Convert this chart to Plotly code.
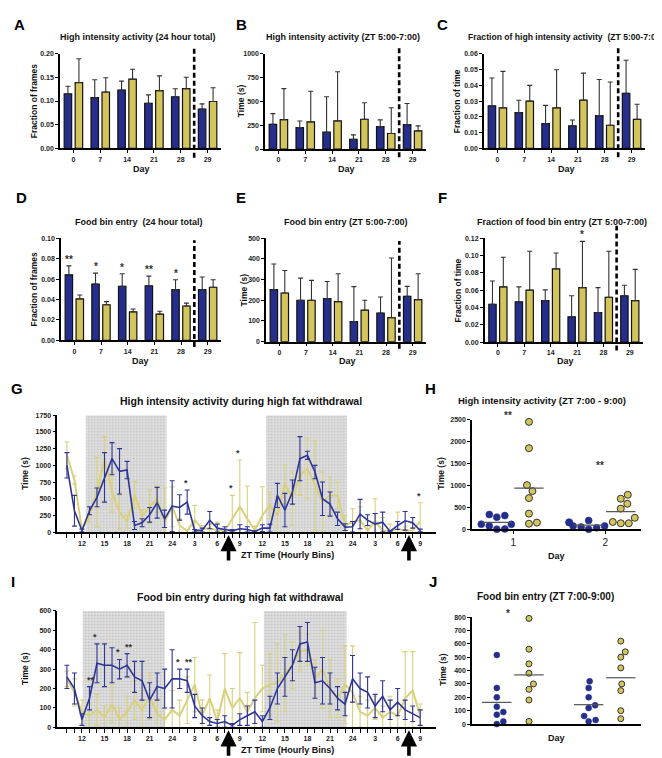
import plotly.graph_objects as go

W, H = 662, 758
FONT = "Liberation Sans, Arial, sans-serif"
BLUE = "#252e8c"
YEL = "#d4c45c"
BLUE_L = "#2d3596"
YEL_L = "#d8d07c"

# ---------------- data ----------------
days = ["0", "7", "14", "21", "28", "29"]

A_blue = [0.115, 0.107, 0.123, 0.095, 0.109, 0.083]
A_blue_err = [0.016, 0.038, 0.019, 0.018, 0.017, 0.011]
A_yel = [0.139, 0.119, 0.146, 0.122, 0.126, 0.099]
A_yel_err = [0.050, 0.030, 0.021, 0.031, 0.024, 0.029]

B_blue = [260, 226, 177, 101, 236, 257]
B_blue_err = [112, 69, 372, 48, 70, 222]
B_yel = [309, 285, 295, 313, 163, 191]
B_yel_err = [326, 323, 517, 173, 271, 52]

C_blue = [0.0271, 0.0227, 0.0157, 0.0143, 0.0208, 0.035]
C_blue_err = [0.0176, 0.0079, 0.0116, 0.0037, 0.023, 0.021]
C_yel = [0.0258, 0.030, 0.0258, 0.0306, 0.0147, 0.0185]
C_yel_err = [0.0231, 0.010, 0.0241, 0.0172, 0.0275, 0.0095]

D_blue = [0.0642, 0.0552, 0.053, 0.0535, 0.0497, 0.0497]
D_blue_err = [0.0087, 0.0106, 0.0122, 0.0094, 0.0097, 0.0123]
D_yel = [0.0406, 0.0349, 0.028, 0.0257, 0.0337, 0.052]
D_yel_err = [0.0039, 0.0031, 0.0028, 0.0029, 0.0028, 0.0074]
D_sig = ["**", "*", "*", "**", "*", ""]

E_blue = [251, 200, 208, 97, 138, 219]
E_blue_err = [124, 107, 83, 169, 78, 48]
E_yel = [235, 200, 193, 152, 116, 203]
E_yel_err = [109, 96, 135, 48, 288, 125]

F_blue = [0.0438, 0.0465, 0.048, 0.0293, 0.0343, 0.0536]
F_blue_err = [0.0269, 0.0173, 0.0124, 0.0243, 0.0287, 0.0121]
F_yel = [0.0638, 0.060, 0.0847, 0.063, 0.0517, 0.048]
F_yel_err = [0.0342, 0.045, 0.0183, 0.0533, 0.0533, 0.036]
F_sig_yel = ["", "", "", "*", "", ""]

# hourly bins: ZT 10 (day 1) ... ZT 9 (day 3)
hours = list(range(48))
zt_tick_hours = list(range(2, 48, 3))
zt_labels = ["12", "15", "18", "21", "24", "3", "6", "9",
             "12", "15", "18", "21", "24", "3", "6", "9"]
G_dark = [(2.5, 13.25), (26.5, 37.25)]
I_dark = [(2.1, 13.0), (26.2, 37.2)]
arrow_hours = [21.5, 45.5]

G_blue = [1000, 320, 25, 320, 520, 820, 1100, 910, 930, 100, 140, 260, 440, 200, 390, 370,
          450, 20, 30, 180, 60, 40, 20, 50, 40, 10, 60, 60, 550, 330, 600, 1100,
          1150, 900, 500, 420, 200, 75, 80, 270, 180, 120, 150, 10, 100, 170, 140, 25]
G_blue_err = [190, 230, 20, 60, 140, 370, 240, 340, 130, 60, 60, 110, 230, 130, 380, 190,
              180, 20, 30, 130, 60, 40, 20, 60, 40, 10, 50, 60, 180, 250, 180, 330,
              60, 100, 250, 180, 100, 50, 80, 220, 80, 160, 150, 10, 60, 140, 80, 20]
G_yel = [1150, 780, 30, 250, 600, 1100, 600, 300, 160, 560, 240, 380, 500, 160, 380, 100,
         20, 180, 50, 60, 30, 20, 200, 380, 200, 30, 250, 400, 250, 720, 500, 850,
         950, 700, 450, 550, 550, 100, 150, 180, 20, 170, 20, 20, 50, 20, 30, 160]
G_yel_err = [200, 60, 60, 100, 520, 330, 300, 250, 100, 200, 100, 250, 200, 500, 300, 100,
             20, 220, 50, 60, 120, 20, 350, 700, 490, 60, 430, 200, 280, 290, 400, 300,
             450, 670, 450, 280, 200, 150, 200, 200, 150, 330, 200, 100, 250, 60, 100, 280]
G_sig = [(16, "*"), (22, "*"), (23, "*"), (47, "*")]

I_blue = [260, 200, 40, 150, 330, 320, 320, 300, 320, 260, 240, 140, 210, 200, 250, 250,
          240, 110, 60, 30, 20, 30, 10, 40, 60, 80, 30, 100, 200, 260, 320, 430,
          440, 230, 240, 200, 150, 120, 250, 200, 180, 110, 160, 90, 130, 90, 70, 50]
I_blue_err = [60, 80, 30, 60, 100, 110, 90, 50, 60, 80, 100, 90, 70, 100, 150, 50,
              60, 60, 40, 20, 20, 30, 10, 30, 50, 60, 30, 60, 80, 100, 80, 90,
              100, 80, 120, 80, 60, 60, 120, 80, 80, 60, 80, 50, 70, 50, 40, 40]
I_yel = [250, 180, 80, 60, 90, 50, 120, 40, 80, 140, 90, 160, 70, 40, 90, 60,
         140, 220, 60, 150, 30, 200, 100, 150, 80, 150, 200, 220, 230, 280, 320, 390,
         400, 250, 300, 200, 150, 220, 180, 80, 60, 100, 50, 80, 60, 150, 190, 60]
I_yel_err = [40, 70, 60, 60, 80, 60, 100, 60, 80, 100, 100, 120, 80, 60, 100, 80,
             120, 140, 80, 120, 60, 180, 100, 235, 100, 390, 120, 160, 200, 200, 120, 100,
             80, 100, 200, 150, 100, 200, 240, 80, 80, 60, 60, 80, 60, 240, 200, 60]
I_sig = [(3, "**"), (4, "*"), (7, "*"), (8, "**"), (15, "*"), (16, "**")]

H_day1_blue = [310, 275, 335, 75, 110, 115, 0, 5]
H_day1_yel = [2450, 1850, 1005, 870, 710, 355, 125, 150]
H_day2_blue = [50, 160, 150, 200, 0, 75, 70, 30]
H_day2_yel = [580, 695, 785, 470, 260, 165, 135, 135]
H_sig = ["**", "**"]
H_sig_y = [2600, 1450]

J_day1_blue = [516, 270, 200, 130, 90, 70, 20, 0]
J_day1_yel = [790, 560, 450, 380, 300, 260, 180, 20]
J_day2_blue = [320, 270, 200, 140, 120, 60, 30, 20]
J_day2_yel = [620, 540, 500, 420, 300, 250, 100, 40]
J_sig = ["*", ""]
J_sig_y = [830, 0]

# ---------------- layout helpers ----------------
def fx(p):
    return p / W

def fy(p):
    return 1 - p / H

# (letter, x0, x1, ytop, ybottom) in pixels
panels = [
    ("A", 52, 213, 42, 137.7),
    ("B", 257, 418, 42.3, 138.3),
    ("C", 476, 637, 42.3, 137.7),
    ("D", 53, 213, 228.3, 331.5),
    ("E", 258, 418, 228.3, 332.7),
    ("F", 476.7, 635, 228.3, 333.3),
    ("G", 49.3, 428, 407, 525),
    ("H", 464, 633, 411.5, 522),
    ("I", 49.3, 428, 604.5, 722),
    ("J", 464, 633, 610.7, 718.7),
]

fig = go.Figure()
layout = dict(width=W, height=H, margin=dict(l=0, r=0, t=0, b=0),
              paper_bgcolor="white", plot_bgcolor="white", showlegend=False,
              barmode="group", bargap=0.18, bargroupgap=0.32)

tickfont = dict(family=FONT, size=7, color="#222", weight="bold")
ax_common = dict(showline=True, linecolor="black", linewidth=1.5, ticks="outside",
                 ticklen=3, tickwidth=1.2, tickcolor="black", showgrid=False,
                 zeroline=False, tickfont=tickfont, fixedrange=True)

def ids(k):
    return "" if k == 1 else str(k)

for k, (L, x0, x1, yt, yb) in enumerate(panels, start=1):
    s = ids(k)
    layout["xaxis" + s] = dict(ax_common, domain=[fx(x0), fx(x1)], anchor="y" + s)
    layout["yaxis" + s] = dict(ax_common, domain=[fy(yb), fy(yt)], anchor="x" + s)

annotations = []
shapes = []

def txt(x, y, s, size, angle=0, weight="bold", color="#111", xanchor="center", yanchor="middle"):
    annotations.append(dict(x=fx(x), y=fy(y), xref="paper", yref="paper", text=s,
                            showarrow=False, textangle=angle, xanchor=xanchor, yanchor=yanchor,
                            font=dict(family=FONT, size=size, color=color, weight=weight)))

# ---------------- bar panels ----------------
bar_specs = [
    (1, A_blue, A_blue_err, A_yel, A_yel_err, [0, 0.2], [0, 0.05, 0.10, 0.15, 0.20], ".2f", (-0.097, 1.052)),
    (2, B_blue, B_blue_err, B_yel, B_yel_err, [0, 1000], [0, 250, 500, 750, 1000], "d", (-0.087, 1.06)),
    (3, C_blue, C_blue_err, C_yel, C_yel_err, [0, 0.06], [0, 0.01, 0.02, 0.03, 0.04, 0.05, 0.06], ".2f", (-0.094, 1.07)),
    (4, D_blue, D_blue_err, D_yel, D_yel_err, [0, 0.1], [0, 0.02, 0.04, 0.06, 0.08, 0.10], ".2f", (-0.063, 0.98)),
    (5, E_blue, E_blue_err, E_yel, E_yel_err, [0, 500], [0, 100, 200, 300, 400, 500], "d", (-0.07, 0.974)),
    (6, F_blue, F_blue_err, F_yel, F_yel_err, [0, 0.12], [0, 0.02, 0.04, 0.06, 0.08, 0.10, 0.12], ".2f", (-0.08, 1.12)),
]
xs = list(range(len(days)))
for k, b, be, yv, ye, yr, tv, fmt, dash_ext in bar_specs:
    s = ids(k)
    for vals, errs, col in ((b, be, BLUE), (yv, ye, YEL)):
        fig.add_trace(go.Bar(x=xs, y=vals, xaxis="x" + s, yaxis="y" + s,
                             marker=dict(color=col, line=dict(color="#111", width=1.2)),
                             error_y=dict(type="data", array=errs, symmetric=False,
                                          arrayminus=[0] * len(errs), color="#333",
                                          thickness=1.1, width=2.5)))
    layout["xaxis" + s].update(range=[-0.5, 5.5], tickvals=xs, ticktext=days)
    layout["yaxis" + s].update(range=yr, tickvals=tv, tickformat=fmt)
    shapes.append(dict(type="line", xref="x" + s, yref="y" + s + " domain",
                       x0=4.5, x1=4.5, y0=dash_ext[0], y1=dash_ext[1],
                       line=dict(color="black", width=2.6, dash="5px,3px")))

# significance stars on bar panels
off = 0.205
starfont = dict(family=FONT, size=10, color="#333", weight="bold")
starfont_s = dict(family=FONT, size=9, color="#333", weight="bold")
for i, sg in enumerate(D_sig):
    if sg:
        annotations.append(dict(x=i - off, y=D_blue[i] + D_blue_err[i], xref="x4", yref="y4",
                                text=sg, showarrow=False, yanchor="bottom", yshift=-1,
                                font=starfont))
for i, sg in enumerate(F_sig_yel):
    if sg:
        annotations.append(dict(x=i + off, y=F_yel[i] + F_yel_err[i], xref="x6", yref="y6",
                                text=sg, showarrow=False, yanchor="bottom", yshift=-1,
                                font=starfont))

# ---------------- time-course panels ----------------
for k, bl, ble, ye, yee, yr, tv, dark, sig in (
        (7, G_blue, G_blue_err, G_yel, G_yel_err, [0, 1750], list(range(0, 1751, 250)), G_dark, G_sig),
        (9, I_blue, I_blue_err, I_yel, I_yel_err, [0, 600], list(range(0, 601, 100)), I_dark, I_sig)):
    s = ids(k)
    # stippled dark-phase background
    fig.add_trace(go.Bar(x=[(d0 + d1) / 2 for d0, d1 in dark], y=[yr[1]] * len(dark),
                         width=[d1 - d0 for d0, d1 in dark], xaxis="x" + s, yaxis="y" + s,
                         marker=dict(color="#e2e2e2", line=dict(width=0),
                                     pattern=dict(shape=".", fgcolor="#9a9a9a", size=3,
                                                  solidity=0.3)),
                         hoverinfo="skip"))
    for vals, errs, col, lw in ((ye, yee, YEL_L, 2.0), (bl, ble, BLUE_L, 1.6)):
        fig.add_trace(go.Scatter(x=hours, y=vals, mode="lines", xaxis="x" + s, yaxis="y" + s,
                                 line=dict(color=col, width=lw),
                                 error_y=dict(type="data", array=errs, color=col,
                                              thickness=1.1, width=2.5)))
    layout["xaxis" + s].update(range=[-1.28, 49.1], tickmode="array", tickvals=zt_tick_hours,
                               ticktext=zt_labels, ticklen=4,
                               minor=dict(tickmode="array", tickvals=hours, ticks="outside",
                                          ticklen=4, tickwidth=1.2, tickcolor="black"))
    layout["yaxis" + s].update(range=yr, tickvals=tv)
    for (h, sg) in sig:
        top = max(bl[h] + ble[h], ye[h] + yee[h])
        annotations.append(dict(x=h, y=top, xref="x" + s, yref="y" + s, text=sg,
                                showarrow=False, yanchor="bottom", yshift=0,
                                xshift=(-1.5 if sg == "*" else 1.5),
                                font=starfont_s))

# arrows under time axis
for k, head_y in ((7, 528), (9, 725)):
    s = ids(k)
    for h in arrow_hours:
        annotations.append(dict(x=h, y=fy(head_y), xref="x" + s, yref="paper", text="",
                                showarrow=True, ax=0, ay=27, arrowhead=2, arrowsize=0.9,
                                arrowwidth=3.6, arrowcolor="black", standoff=0))

# ---------------- scatter (dot) panels ----------------
def swarm(vals, center, ypx, xpx, diam):
    order = sorted(range(len(vals)), key=lambda i: vals[i])
    placed = []
    out = [center] * len(vals)
    cands = [0.0]
    for step in range(1, 40):
        cands += [step * 0.5, -step * 0.5]
    for i in order:
        y = vals[i] * ypx
        for c in cands:
            if all((c - px) ** 2 + (y - py) ** 2 >= diam ** 2 for px, py in placed):
                break
        placed.append((c, y))
        out[i] = center + c / xpx
    return out

for k, groups, yr, tv, msize, sig, sig_y, showx in (
        (8, [(1, H_day1_blue, H_day1_yel), (2, H_day2_blue, H_day2_yel)], [0, 2500],
         list(range(0, 2501, 500)), 7, H_sig, H_sig_y, True),
        (10, [(1, J_day1_blue, J_day1_yel), (2, J_day2_blue, J_day2_yel)], [0, 800],
         list(range(0, 801, 100)), 6, J_sig, J_sig_y, False)):
    s = ids(k)
    L, x0, x1, yt, yb = panels[k - 1]
    xr = [0.55, 2.39]
    xpx = (x1 - x0) / (xr[1] - xr[0])
    ypx = (yb - yt) / (yr[1] - yr[0])
    for day, bv, yv in groups:
        for vals, col, ctr, lc, lw in ((bv, BLUE, day - 0.18, BLUE, 0.5), (yv, YEL, day + 0.17, "#333", 1)):
            xsw = swarm(vals, ctr, ypx, xpx, msize + 0.8)
            fig.add_trace(go.Scatter(x=xsw, y=vals, mode="markers", xaxis="x" + s, yaxis="y" + s,
                                     marker=dict(size=msize, color=col, line=dict(color=lc, width=lw)),
                                     cliponaxis=False))
            m = sum(vals) / len(vals)
            fig.add_trace(go.Scatter(x=[ctr - 0.16, ctr + 0.16], y=[m, m], mode="lines",
                                     xaxis="x" + s, yaxis="y" + s,
                                     line=dict(color="#555", width=1.2)))
    for d, (sg, sy) in enumerate(zip(sig, sig_y), start=1):
        if sg:
            annotations.append(dict(x=d - 0.06, y=sy / yr[1], xref="x" + s, yref="y" + s + " domain",
                                    text=sg, showarrow=False, yanchor="middle", font=starfont))
    layout["xaxis" + s].update(range=xr, tickvals=[1, 2] if showx else [],
                               ticks="outside" if showx else "",
                               tickfont=dict(family=FONT, size=10, color="#222"))
    layout["yaxis" + s].update(range=yr, tickvals=tv)

# ---------------- text ----------------
letters = {"A": (11, 13), "B": (233, 13), "C": (434, 13), "D": (13, 187), "E": (233, 187),
           "F": (434, 187), "G": (9, 380), "H": (422, 380), "I": (5, 575), "J": (425, 575)}
for L, (x, y) in letters.items():
    txt(x, y, L, 15, color="black")

titles = [
    ("High intensity activity (24 hour total)", 130, 25, 9),
    ("High intensity activity (ZT 5:00-7:00)", 335, 25, 9),
    ("Fraction of high intensity activity  (ZT 5:00-7:00)", 555, 25, 8.6),
    ("Food bin entry  (24 hour total)", 131, 212, 9),
    ("Food bin entry (ZT 5:00-7:00)", 338, 212, 9),
    ("Fraction of food bin entry (ZT 5:00-7:00)", 554, 212, 9),
    ("High intensity activity during high fat withdrawal", 233, 393, 10.5),
    ("High intensity activity (ZT 7:00 - 9:00)", 534, 392, 9.5),
    ("Food bin entry during high fat withdrawal", 232, 590, 10.5),
    ("Food bin entry (ZT 7:00-9:00)", 537, 590, 10),
]
for t, x, y, sz in titles:
    if x > 550 and y < 100:
        txt(657, y, t, sz, xanchor="right")
    else:
        txt(x, y, t, sz)

ytitles = [
    ("Fraction of frames", 26, 90), ("Time (s)", 233, 90), ("Fraction of time", 449, 90),
    ("Fraction of frames", 26, 280), ("Time (s)", 236, 280), ("Fraction of time", 450, 281),
    ("Time (s)", 17, 466), ("Time (s)", 433, 466), ("Time (s)", 17, 663), ("Time (s)", 435, 664),
]
for t, x, y in ytitles:
    txt(x, y, t, 8.5, angle=-90)

xtitles = [
    ("Day", 133, 158), ("Day", 338, 158), ("Day", 558, 158),
    ("Day", 132, 352), ("Day", 339, 352), ("Day", 557, 352),
    ("ZT Time (Hourly Bins)", 279, 548), ("Day", 548, 549),
    ("ZT Time (Hourly Bins)", 279, 745), ("Day", 548, 733),
]
for t, x, y in xtitles:
    txt(x, y, t, 9)

layout["annotations"] = annotations
layout["shapes"] = shapes
fig.update_layout(**layout)
fig.write_html("out.html")
